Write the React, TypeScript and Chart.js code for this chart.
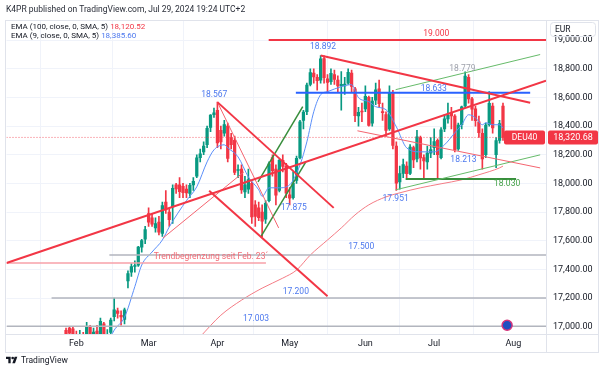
import React, { useEffect, useRef } from "react";
import { Chart, registerables } from "chart.js";
Chart.register(...registerables);

// ---- data (daily candles, DEU40) ----
const DATES = [
  "2024-01-29","2024-01-30","2024-01-31",
  "2024-02-01","2024-02-02","2024-02-05","2024-02-06","2024-02-07","2024-02-08","2024-02-09","2024-02-12","2024-02-13","2024-02-14","2024-02-15","2024-02-16","2024-02-19","2024-02-20","2024-02-21","2024-02-22","2024-02-23","2024-02-26","2024-02-27","2024-02-28","2024-02-29",
  "2024-03-01","2024-03-04","2024-03-05","2024-03-06","2024-03-07","2024-03-08","2024-03-11","2024-03-12","2024-03-13","2024-03-14","2024-03-15","2024-03-18","2024-03-19","2024-03-20","2024-03-21","2024-03-22","2024-03-25","2024-03-26","2024-03-27","2024-03-28",
  "2024-04-02","2024-04-03","2024-04-04","2024-04-05","2024-04-08","2024-04-09","2024-04-10","2024-04-11","2024-04-12","2024-04-15","2024-04-16","2024-04-17","2024-04-18","2024-04-19","2024-04-22","2024-04-23","2024-04-24","2024-04-25","2024-04-26","2024-04-29","2024-04-30",
  "2024-05-02","2024-05-03","2024-05-06","2024-05-07","2024-05-08","2024-05-09","2024-05-10","2024-05-13","2024-05-14","2024-05-15","2024-05-16","2024-05-17","2024-05-20","2024-05-21","2024-05-22","2024-05-23","2024-05-24","2024-05-27","2024-05-28","2024-05-29","2024-05-30","2024-05-31",
  "2024-06-03","2024-06-04","2024-06-05","2024-06-06","2024-06-07","2024-06-10","2024-06-11","2024-06-12","2024-06-13","2024-06-14","2024-06-17","2024-06-18","2024-06-19","2024-06-20","2024-06-21","2024-06-24","2024-06-25","2024-06-26","2024-06-27","2024-06-28",
  "2024-07-01","2024-07-02","2024-07-03","2024-07-04","2024-07-05","2024-07-08","2024-07-09","2024-07-10","2024-07-11","2024-07-12","2024-07-15","2024-07-16","2024-07-17","2024-07-18","2024-07-19","2024-07-22","2024-07-23","2024-07-24","2024-07-25","2024-07-26","2024-07-29",
];
const OPEN = [
  16975,16990,16985,
  16940,16880,16930,16900,16995,16930,16970,16950,17020,16900,16960,17070,17110,17080,17050,17320,17380,17420,17430,17555,17610,
  17790,17760,17690,17730,17650,17870,17800,17835,17990,17990,17980,17960,17930,17990,18050,18180,18220,18270,18390,18480,
  18510,18370,18350,18400,18320,18300,18090,18100,17940,17960,18000,17850,17830,17800,17750,17880,18180,18100,17950,18160,18120,
  17920,17900,18020,18180,18440,18500,18690,18770,18740,18720,18870,18730,18710,18760,18720,18680,18680,18700,18770,18660,18470,18500,
  18520,18600,18420,18580,18660,18500,18480,18380,18630,18260,18010,18070,18120,18070,18250,18170,18320,18180,18150,18210,
  18250,18300,18180,18380,18450,18490,18470,18240,18410,18540,18740,18590,18520,18430,18350,18200,18410,18540,18200,18300,18540,
];
const HIGH = [
  16990,17000,16995,
  16970,16975,16960,17030,17010,16990,17010,17060,17030,16980,17060,17200,17130,17110,17130,17390,17440,17460,17560,17610,17700,
  17830,17790,17760,17770,17870,17950,17820,17990,18000,18040,18000,17990,18000,18040,18200,18240,18290,18400,18480,18525,
  18567,18400,18440,18420,18350,18330,18130,18130,18050,18100,18010,17880,17870,17850,17880,18150,18200,18130,18170,18200,18140,
  17970,18080,18190,18440,18510,18700,18800,18800,18760,18892,18890,18760,18800,18790,18750,18780,18740,18800,18790,18670,18530,18560,
  18680,18610,18600,18700,18720,18560,18500,18680,18650,18290,18120,18170,18150,18270,18260,18370,18330,18200,18260,18320,
  18380,18310,18390,18480,18560,18530,18480,18420,18540,18779,18760,18600,18540,18470,18380,18420,18640,18560,18320,18440,18560,
];
const LOW = [
  16900,16930,16880,
  16800,16850,16850,16880,16900,16900,16910,16940,16830,16850,16940,17040,17060,17010,17020,17270,17350,17380,17420,17520,17580,
  17700,17700,17660,17640,17630,17790,17700,17720,17930,17900,17900,17900,17900,17950,18040,18150,18200,18250,18360,18460,
  18250,18240,18330,18150,18240,18060,18040,17930,17900,17930,17720,17700,17740,17626,17720,17870,18050,17850,17940,18080,17900,
  17850,17890,18000,18170,18380,18480,18680,18700,18650,18700,18700,18640,18690,18690,18640,18510,18620,18690,18640,18430,18400,18430,
  18500,18400,18400,18550,18530,18440,18330,18370,18240,17951,17960,18040,18040,18060,18110,18150,18100,18030,18100,18180,
  18200,18040,18170,18360,18420,18380,18220,18230,18380,18530,18560,18440,18400,18320,18100,18180,18400,18350,18110,18280,18300,
];
const CLOSE = [
  16940,16955,16904,
  16859,16918,16904,17000,16922,16963,16927,17037,16880,16946,17047,17117,17093,17068,17118,17370,17419,17423,17556,17601,17678,
  17730,17716,17720,17660,17845,17815,17746,17965,17961,17942,17936,17933,17987,18015,18179,18206,18261,18384,18477,18492,
  18283,18290,18410,18175,18270,18077,18097,17955,17990,18027,17766,17770,17760,17737,17860,18137,18089,17917,18161,18118,17932,
  17896,18001,18175,18430,18498,18686,18773,18742,18716,18869,18738,18704,18768,18726,18680,18691,18693,18775,18677,18473,18496,18498,
  18608,18405,18575,18653,18557,18494,18369,18630,18265,18002,18068,18131,18067,18254,18164,18325,18177,18156,18211,18235,
  18291,18200,18374,18450,18475,18470,18236,18407,18534,18748,18590,18518,18437,18354,18171,18407,18558,18387,18299,18418,18320.68,
];
const JAN_BARS = 3; // bars before Feb 1 (bar 0 = Feb 1)

// EMA readings (bar number, value)
const EMA9_BARS = [10,11,14,17,19,22,25,27,32,35,38,40,43,44,47,50,53,54,56,59,62,65,67,69,71,73,77,80,82,85,87,90,93,96,100,104,107,110,112,114,116,118,119,121,123,124];
const EMA9_VALUES = [16930,16976,17066,17280,17430,17521,17605,17696,17880,17976,18150,18234,18269,18248,18185,18045,17955,17910,17969,17969,17990,18129,18290,18500,18619,18640,18675,18689,18598,18570,18535,18514,18395,18248,18220,18220,18269,18353,18409,18479,18458,18409,18423,18409,18409,18385.6];
const EMA100_BARS = [36,42,48,54,60,64,68,73,77,81,85,90,94,100,106,112,117,123,124];
const EMA100_VALUES = [16930,17080,17185,17269,17339,17395,17500,17605,17689,17780,17850,17906,17934,17969,17997,18025,18060,18108,18120.52];

// Drawings: [startBar, startPrice, endBar, endPrice]
const TREND_LINES = [
  [-20.3, 17444, 136.5, 18717],
  [41, 18567, 74.8, 17829],
  [38.6, 17948, 73.0, 17213],
  [41, 18567, 58.8, 17689],
  [25.2, 17619, 48.7, 18080],
  [52.8, 18010, 65.8, 18535],
  [53.6, 17626, 66.7, 18150],
  [71, 18892, 131.9, 18563],
  [81.7, 18367, 134.8, 18108],
  [92.8, 18654, 134.8, 18899],
  [92.8, 17955, 134.8, 18199],
  [95.7, 18030, 127.8, 18030],
  [63.8, 18633, 131.9, 18633],
  [55.9, 19000, 136.5, 19000],
  [9.6, 17500, 136.5, 17500],
  [-7.2, 17200, 136.5, 17200],
  [-20.3, 17003, 136.5, 17003],
  [-20.3, 17444, 55.1, 17444],
];

const LABEL_TEXTS = ["19.000","18.892","18.779","18.633","18.567","17.875","17.951","18.213","18.030","17.500","17.200","17.003","Trendbegrenzung seit Feb. 23´"];
const LABEL_BARS = [104.6, 71.7, 112.2, 103.9, 40.1, 63.2, 92.8, 112.5, 125.2, 82.8, 63.8, 52.2, 39.1];
const LABEL_PRICES = [19045, 18950, 18801, 18661, 18619, 17829, 17892, 18164, 18000, 17556, 17241, 17052, 17486];

const MONTH_LABELS = ["Feb","Mar","Apr","May","Jun","Jul","Aug"];
const MONTH_START_BARS = [0, 21, 41, 62, 84, 104, 127];
const Y_TICKS = [17000,17200,17400,17600,17800,18000,18200,18400,18600,18800,19000];
const LAST_PRICE = 18320.68;
const EVENT_BARS = [125.2];
const EVENT_PRICES = [17010];

// ---- view / style ----
const X_MIN = -20.3, X_MAX = 136.5;
const Y_MIN = 16949, Y_MAX = 19140;
const UP = "#089981", DOWN = "#f23645";
const RED = "#f23645", RED_THIN = "#f56570", GREEN = "#388e3c", GREEN_THIN = "#66bb6a";
const BLUE = "#2962ff", GRAY = "#b2b5be", PINK = "#f7a0a8";
const SEG_COLORS = [RED, RED, RED, RED_THIN, RED_THIN, GREEN, GREEN, RED, RED_THIN, GREEN_THIN, GREEN_THIN, GREEN, BLUE, RED, GRAY, GRAY, GRAY, PINK];
const SEG_WIDTHS = [2, 2, 2, 1, 1, 1.5, 1.5, 2, 1, 1, 1, 2, 2, 2, 1.5, 1.5, 1.5, 1.5];
const LBL_BLUE = "#4c78ee";
const LABEL_COLORS = [RED, LBL_BLUE, "#9fa2ab", LBL_BLUE, LBL_BLUE, LBL_BLUE, LBL_BLUE, LBL_BLUE, "#43a047", LBL_BLUE, LBL_BLUE, LBL_BLUE, "#f26b75"];
const FONT = "Roboto, 'Liberation Sans', sans-serif";

function fmt(v: number) {
  return Number(v).toLocaleString("en-US", { minimumFractionDigits: 2, maximumFractionDigits: 2 });
}

function roundRect(ctx: CanvasRenderingContext2D, x: number, y: number, w: number, h: number, r: number) {
  ctx.beginPath();
  ctx.moveTo(x + r, y);
  ctx.lineTo(x + w - r, y);
  ctx.quadraticCurveTo(x + w, y, x + w, y + r);
  ctx.lineTo(x + w, y + h - r);
  ctx.quadraticCurveTo(x + w, y + h, x + w - r, y + h);
  ctx.lineTo(x + r, y + h);
  ctx.quadraticCurveTo(x, y + h, x, y + h - r);
  ctx.lineTo(x, y + r);
  ctx.quadraticCurveTo(x, y, x + r, y);
  ctx.closePath();
}

const overlayPlugin = {
  id: "overlay",
  beforeDraw(chart: any) {
    const { ctx } = chart;
    ctx.save();
    ctx.fillStyle = "#ffffff";
    ctx.fillRect(0, 0, chart.width, chart.height);
    ctx.restore();
  },
  afterDatasetsDraw(chart: any) {
    const { ctx, scales } = chart;
    ctx.save();
    ctx.font = `8.5px ${FONT}`;
    ctx.textAlign = "center";
    ctx.textBaseline = "middle";
    LABEL_TEXTS.forEach((t, i) => {
      ctx.fillStyle = LABEL_COLORS[i];
      ctx.fillText(t, scales.x.getPixelForValue(LABEL_BARS[i]), scales.y.getPixelForValue(LABEL_PRICES[i]));
    });
    ctx.restore();
  },
  afterDraw(chart: any) {
    const { ctx, chartArea: a, scales } = chart;
    ctx.save();
    ctx.strokeStyle = "#e0e3eb";
    ctx.lineWidth = 1;
    ctx.strokeRect(5.5, a.top + 0.5, 593, 352 - a.top);
    ctx.beginPath();
    ctx.moveTo(a.right + 0.5, a.top);
    ctx.lineTo(a.right + 0.5, 352.5);
    ctx.moveTo(5, a.bottom + 0.5);
    ctx.lineTo(598.5, a.bottom + 0.5);
    ctx.stroke();

    // EUR box
    roundRect(ctx, 550.5, a.top + 2.5, 45, 14, 3);
    ctx.stroke();
    ctx.fillStyle = "#131722";
    ctx.font = `8.5px ${FONT}`;
    ctx.textBaseline = "middle";
    ctx.textAlign = "left";
    ctx.fillText("EUR", 555, a.top + 9.8);

    // price tags
    const yp = scales.y.getPixelForValue(LAST_PRICE);
    ctx.fillStyle = RED;
    roundRect(ctx, 548, yp - 7, 50, 14, 2);
    ctx.fill();
    roundRect(ctx, 504, yp - 7, 41, 14, 2);
    ctx.fill();
    ctx.fillStyle = "#ffffff";
    ctx.textAlign = "center";
    ctx.font = `9px ${FONT}`;
    ctx.fillText(fmt(LAST_PRICE), 573, yp + 0.5);
    ctx.font = `8.5px ${FONT}`;
    ctx.fillText("DEU40", 524.5, yp + 0.5);
    ctx.restore();
  },
};

export default function App() {
  const ref = useRef<HTMLCanvasElement>(null);
  useEffect(() => {
    const candles = DATES.map((_, i) => i);
    const colors = candles.map((i) => (CLOSE[i] >= OPEN[i] ? UP : DOWN));
    const datasets: any[] = [
      {
        type: "bar",
        data: candles.map((i) => ({ x: i - JAN_BARS, y: [LOW[i], HIGH[i]] })),
        backgroundColor: colors,
        barThickness: 1,
        grouped: false,
        order: 30,
      },
      {
        type: "bar",
        data: candles.map((i) => ({ x: i - JAN_BARS, y: [Math.min(OPEN[i], CLOSE[i]), Math.max(OPEN[i], CLOSE[i])] })),
        backgroundColor: colors,
        barThickness: 2.6,
        minBarLength: 1,
        grouped: false,
        order: 29,
      },
      {
        type: "line",
        data: [{ x: X_MIN, y: LAST_PRICE }, { x: X_MAX, y: LAST_PRICE }],
        borderColor: "rgba(242,54,69,0.75)",
        borderWidth: 1,
        borderDash: [1, 2],
        pointRadius: 0,
        order: 20,
      },
      {
        type: "line",
        data: EMA100_BARS.map((b, i) => ({ x: b, y: EMA100_VALUES[i] })),
        borderColor: "#f47c85",
        borderWidth: 1,
        pointRadius: 0,
        cubicInterpolationMode: "monotone",
        order: 12,
      },
      {
        type: "line",
        data: EMA9_BARS.map((b, i) => ({ x: b, y: EMA9_VALUES[i] })),
        borderColor: "#5b8ff9",
        borderWidth: 1,
        pointRadius: 0,
        cubicInterpolationMode: "monotone",
        order: 11,
      },
      ...TREND_LINES.map((s, i) => ({
        type: "line",
        data: [{ x: s[0], y: s[1] }, { x: s[2], y: s[3] }],
        borderColor: SEG_COLORS[i],
        borderWidth: SEG_WIDTHS[i],
        pointRadius: 0,
        order: 5,
      })),
      {
        type: "line",
        data: EVENT_BARS.map((b, i) => ({ x: b, y: EVENT_PRICES[i] })),
        showLine: false,
        pointRadius: 5,
        pointBackgroundColor: "#1f4fc0",
        pointBorderColor: "#d5337a",
        pointBorderWidth: 1.5,
        order: 1,
      },
    ];

    const chart = new Chart(ref.current as HTMLCanvasElement, {
      type: "bar",
      data: { datasets },
      options: {
        responsive: false,
        animation: false,
        maintainAspectRatio: false,
        layout: { padding: { left: 5, top: 20, right: 2, bottom: 17 } },
        plugins: { legend: { display: false }, tooltip: { enabled: false } },
        scales: {
          x: {
            type: "linear",
            min: X_MIN,
            max: X_MAX,
            offset: false,
            grid: { color: "#f0f3fa", drawTicks: false },
            border: { display: false },
            ticks: {
              autoSkip: false,
              maxRotation: 0,
              padding: 4,
              color: "#131722",
              font: { family: FONT, size: 9 },
              callback: (v: any) => {
                const k = MONTH_START_BARS.indexOf(Number(v));
                return k >= 0 ? MONTH_LABELS[k] : "";
              },
            },
            afterBuildTicks: (s: any) => {
              s.ticks = MONTH_START_BARS.map((v) => ({ value: v }));
            },
            afterFit: (s: any) => {
              s.height = 19;
            },
          },
          y: {
            type: "linear",
            position: "right",
            min: Y_MIN,
            max: Y_MAX,
            grid: { color: "#f0f3fa", drawTicks: false },
            border: { display: false },
            ticks: {
              padding: 7,
              color: "#131722",
              font: { family: FONT, size: 9 },
              callback: (v: any) => fmt(v),
            },
            afterBuildTicks: (s: any) => {
              s.ticks = Y_TICKS.map((v) => ({ value: v }));
            },
            afterFit: (s: any) => {
              s.width = 52;
            },
          },
        },
      } as any,
      plugins: [overlayPlugin],
    } as any);
    return () => chart.destroy();
  }, []);

  const txt: React.CSSProperties = { position: "absolute", whiteSpace: "nowrap", fontFamily: FONT, color: "#131722" };
  return (
    <div style={{ position: "fixed", left: 0, top: 0, width: 600, height: 370, background: "#fff", overflow: "hidden" }}>
      <canvas ref={ref} width={600} height={370} style={{ position: "absolute", left: 0, top: 0, width: 600, height: 370 }} />
      <div style={{ ...txt, left: 6, top: 4, fontSize: 8.5, color: "#2a2e39" }}>
        K4PR published on TradingView.com, Jul 29, 2024 19:24 UTC+2
      </div>
      <div style={{ ...txt, left: 11, top: 22, fontSize: 8, lineHeight: "9px" }}>
        EMA (100, close, 0, SMA, 5) <span style={{ color: RED }}>18,120.52</span>
      </div>
      <div style={{ ...txt, left: 11, top: 31, fontSize: 8, lineHeight: "9px" }}>
        EMA (9, close, 0, SMA, 5) <span style={{ color: "#4c78ee" }}>18,385.60</span>
      </div>
      <div style={{ ...txt, left: 6, top: 355, fontSize: 8.5, display: "flex", alignItems: "center", gap: 3 }}>
        <svg width="12" height="8" viewBox="0 0 36 24">
          <path d="M0 2h14v20H7V9H0z M27 22h-8l7-20h8z" fill="#131722" />
          <circle cx="20" cy="6" r="4" fill="#131722" />
        </svg>
        <span>TradingView</span>
      </div>
    </div>
  );
}
